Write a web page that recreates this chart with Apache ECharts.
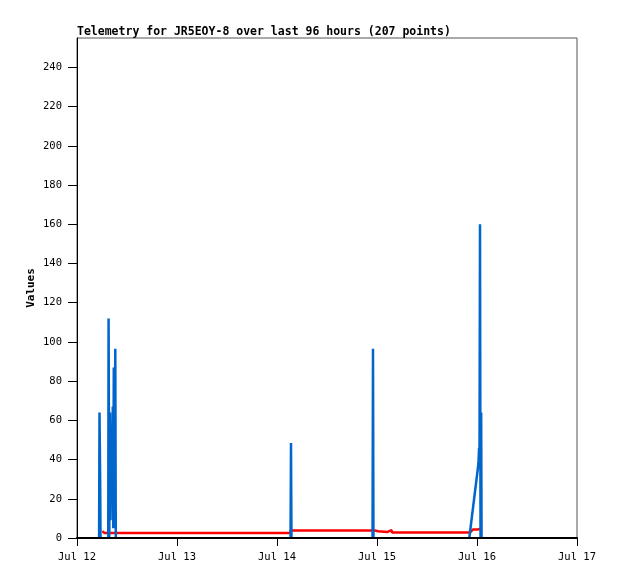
<!DOCTYPE html>
<html>
<head>
<meta charset="utf-8">
<script src="https://cdn.jsdelivr.net/npm/echarts@6/dist/echarts.min.js"></script>
<style>html,body{margin:0;padding:0;background:#fff}#c{width:618px;height:579px}</style>
</head>
<body>
<div id="c"></div>
<script>
// hours since Jul 12 00:00
const xTicks = [0, 24, 48, 72, 96, 120];
const xTickLabels = ['Jul 12', 'Jul 13', 'Jul 14', 'Jul 15', 'Jul 16', 'Jul 17'];
const yTicks = [0, 20, 40, 60, 80, 100, 120, 140, 160, 180, 200, 220, 240];

// '-' marks a gap in the telemetry line
const blueHours = [5.3, 5.4, 5.55, 5.65, 5.7, 7.5, 7.58, 7.75, 7.92, 8.04, 8.23, 8.4, 8.59, 8.71, 8.83, 9.0, 9.19, 9.31, 9.4,
  51.25, 51.36, 51.47, 51.5, 70.93, 71.04, 71.15, 71.2, 94.15, 96.35, 96.5, 96.6, 96.72, 96.85, 97.0, 97.1];
const blueValues = [0, 64, 32, 0, '-', 0, 112, 0, 64, 9, 48, 29, 67, 5, 87, 10, 96.5, 0, '-',
  0, 48.5, 0, '-', 0, 96.5, 0, '-', 0, 38, 46, 40, 160, 0, 64, 0];

const redHours = [6.07, 6.5, 6.6, 51.2, 51.3, 71.5, 71.6, 72.3, 72.4, 74.4, 74.5, 75.5, 75.6, 94.3, 95.0, 96.2, 96.3, 97.1];
const redValues = [3.5, 3.5, 2.6, 2.6, 3.8, 3.8, 3.4, 3.4, 3.0, 3.0, 4.0, 4.0, 2.8, 2.8, 4.3, 4.3, 5.0, 5.0];

const font = 'DejaVu Sans Mono';
const chart = echarts.init(document.getElementById('c'), null, {renderer: 'canvas'});
chart.setOption({
  animation: false,
  backgroundColor: '#fff',
  title: {
    text: 'Telemetry for JR5EOY-8 over last 96 hours (207 points)',
    left: 77, top: 26, padding: 0,
    textStyle: {fontFamily: font, fontSize: 11.5, fontWeight: 'bold', color: '#000'}
  },
  grid: {left: 77, right: 41, top: 38, bottom: 41, show: true, borderColor: '#555', borderWidth: 1, backgroundColor: 'transparent'},
  xAxis: {
    type: 'value', min: 0, max: 120, interval: 24, z: 5,
    axisLine: {lineStyle: {color: '#000', width: 2}},
    axisTick: {length: 8, lineStyle: {color: '#000', width: 1}},
    splitLine: {show: false},
    axisLabel: {
      margin: 14, fontFamily: font, fontSize: 10.5, color: '#000',
      formatter: v => { const i = xTicks.indexOf(v); return i >= 0 ? xTickLabels[i] : ''; }
    }
  },
  yAxis: {
    type: 'value', min: 0, max: 255, z: 5,
    name: 'Values', nameLocation: 'middle', nameGap: 40, nameMoveOverlap: false,
    nameTextStyle: {fontFamily: font, fontSize: 11, fontWeight: 'bold', color: '#000'},
    axisLine: {show: true, lineStyle: {color: '#000', width: 1}},
    axisTick: {length: 9, customValues: yTicks, lineStyle: {color: '#000'}},
    splitLine: {show: false},
    axisLabel: {customValues: yTicks, margin: 15, fontFamily: font, fontSize: 10.5, color: '#000'}
  },
  series: [
    {
      type: 'line', z: 2, showSymbol: false, symbol: 'none',
      data: redHours.map((h, i) => [h, redValues[i]]),
      lineStyle: {color: '#ff0000', width: 2.5}
    },
    {
      type: 'line', z: 3, showSymbol: false, symbol: 'none', connectNulls: false,
      data: blueHours.map((h, i) => [h, blueValues[i]]),
      lineStyle: {color: '#0066cc', width: 2.5}
    }
  ]
});
</script>
</body>
</html>
